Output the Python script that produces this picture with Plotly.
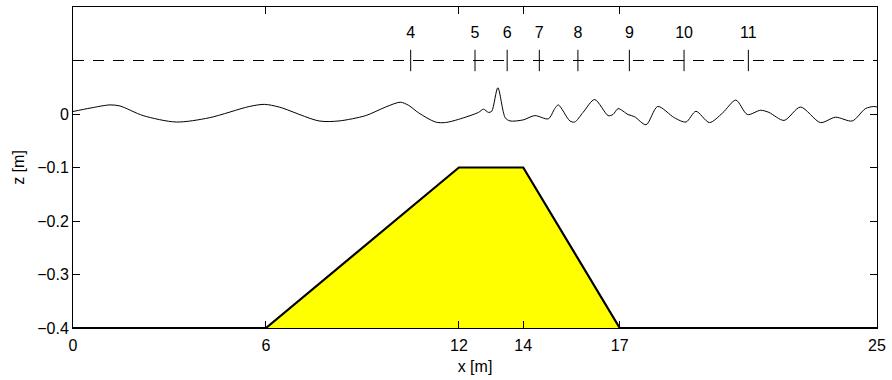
import plotly.graph_objects as go

# Free surface elevation (x [m], z [m])
wave_x = [0.00, 0.53, 1.15, 1.46, 2.18, 3.21, 4.24, 5.48, 5.95, 6.41, 7.65, 8.27,
          9.10, 9.72, 10.18, 10.44, 10.75, 11.27, 11.58, 11.99, 12.61, 12.76, 12.92,
          13.02, 13.21, 13.44, 13.59, 14.00, 14.36, 14.78, 14.98, 15.09, 15.45,
          15.60, 15.86, 16.22, 16.64, 16.79, 16.95, 17.26, 17.46, 17.82, 18.18,
          18.70, 19.06, 19.37, 19.79, 20.20, 20.61, 20.97, 21.38, 21.64, 22.11,
          22.62, 23.24, 23.71, 24.23, 24.64, 24.90, 25.00]
wave_z = [0.0047, 0.011, 0.017, 0.015, -0.003, -0.015, -0.007, 0.014, 0.018, 0.013,
          -0.013, -0.013, -0.003, 0.013, 0.022, 0.016, 0.002, -0.015, -0.016, -0.010,
          0.003, 0.009, 0.003, 0.005, 0.049, -0.007, -0.013, -0.011, -0.003, -0.009,
          0.010, 0.017, -0.013, -0.015, 0.003, 0.027, -0.003, -0.001, 0.010, -0.001,
          -0.005, -0.020, 0.014, -0.007, -0.015, 0.005, -0.016, 0.002, 0.026, -0.001,
          0.007, 0.003, -0.012, 0.013, -0.016, -0.006, -0.013, 0.010, 0.014, 0.013]

# Submerged bar profile
bar_x = [0, 6, 12, 14, 17, 25]
bar_z = [-0.4, -0.4, -0.1, -0.1, -0.4, -0.4]

# Wave gauges
gauge_x = [10.5, 12.5, 13.5, 14.5, 15.7, 17.3, 19.0, 21.0]
gauge_labels = ["4", "5", "6", "7", "8", "9", "10", "11"]
gauge_level = 0.1

x_ticks = [0, 6, 12, 14, 17, 25]
y_ticks = [0, -0.1, -0.2, -0.3, -0.4]
y_ticktext = ["0", "\u22120.1", "\u22120.2", "\u22120.3", "\u22120.4"]

FONT = "Liberation Sans, Arial, Helvetica, sans-serif"
FS = 16

fig = go.Figure()

fig.add_trace(go.Scatter(x=bar_x, y=bar_z, mode="lines", fill="toself",
                         fillcolor="#ffff00", line=dict(color="black", width=2.2),
                         hoverinfo="skip"))

fig.add_trace(go.Scatter(x=[0, 25], y=[gauge_level, gauge_level], mode="lines",
                         line=dict(color="black", width=1, dash="11px,9px")))

gx, gy = [], []
for g in gauge_x:
    gx += [g, g, None]
    gy += [gauge_level - 0.02, gauge_level + 0.02, None]
fig.add_trace(go.Scatter(x=gx, y=gy, mode="lines", line=dict(color="black", width=1)))

fig.add_trace(go.Scatter(x=gauge_x, y=[0.15] * len(gauge_x), mode="text",
                         text=gauge_labels, textfont=dict(family=FONT, size=FS, color="black"),
                         textposition="middle center"))

fig.add_trace(go.Scatter(x=wave_x, y=wave_z, mode="lines",
                         line=dict(color="black", width=1, shape="spline", smoothing=0.8)))

fig.update_layout(
    width=892, height=380,
    margin=dict(l=73, r=12, t=6, b=52),
    paper_bgcolor="white", plot_bgcolor="white",
    showlegend=False,
    font=dict(family=FONT, size=FS, color="black"),
)
fig.update_xaxes(range=[0, 25], tickvals=x_ticks, ticks="inside", ticklen=7,
                 tickcolor="black", showline=True, linecolor="black", linewidth=1,
                 mirror="ticks", showgrid=False, zeroline=False, ticklabelstandoff=3,
                 title=dict(text="x [m]", standoff=7, font=dict(size=FS)))
fig.update_yaxes(range=[-0.4, 0.2], tickvals=y_ticks, ticktext=y_ticktext,
                 ticks="inside", ticklen=7, tickcolor="black", showline=True,
                 linecolor="black", linewidth=1, mirror="ticks", showgrid=False,
                 zeroline=False, title=dict(text="z [m]", standoff=8, font=dict(size=FS)))

fig.write_html("out.html")
